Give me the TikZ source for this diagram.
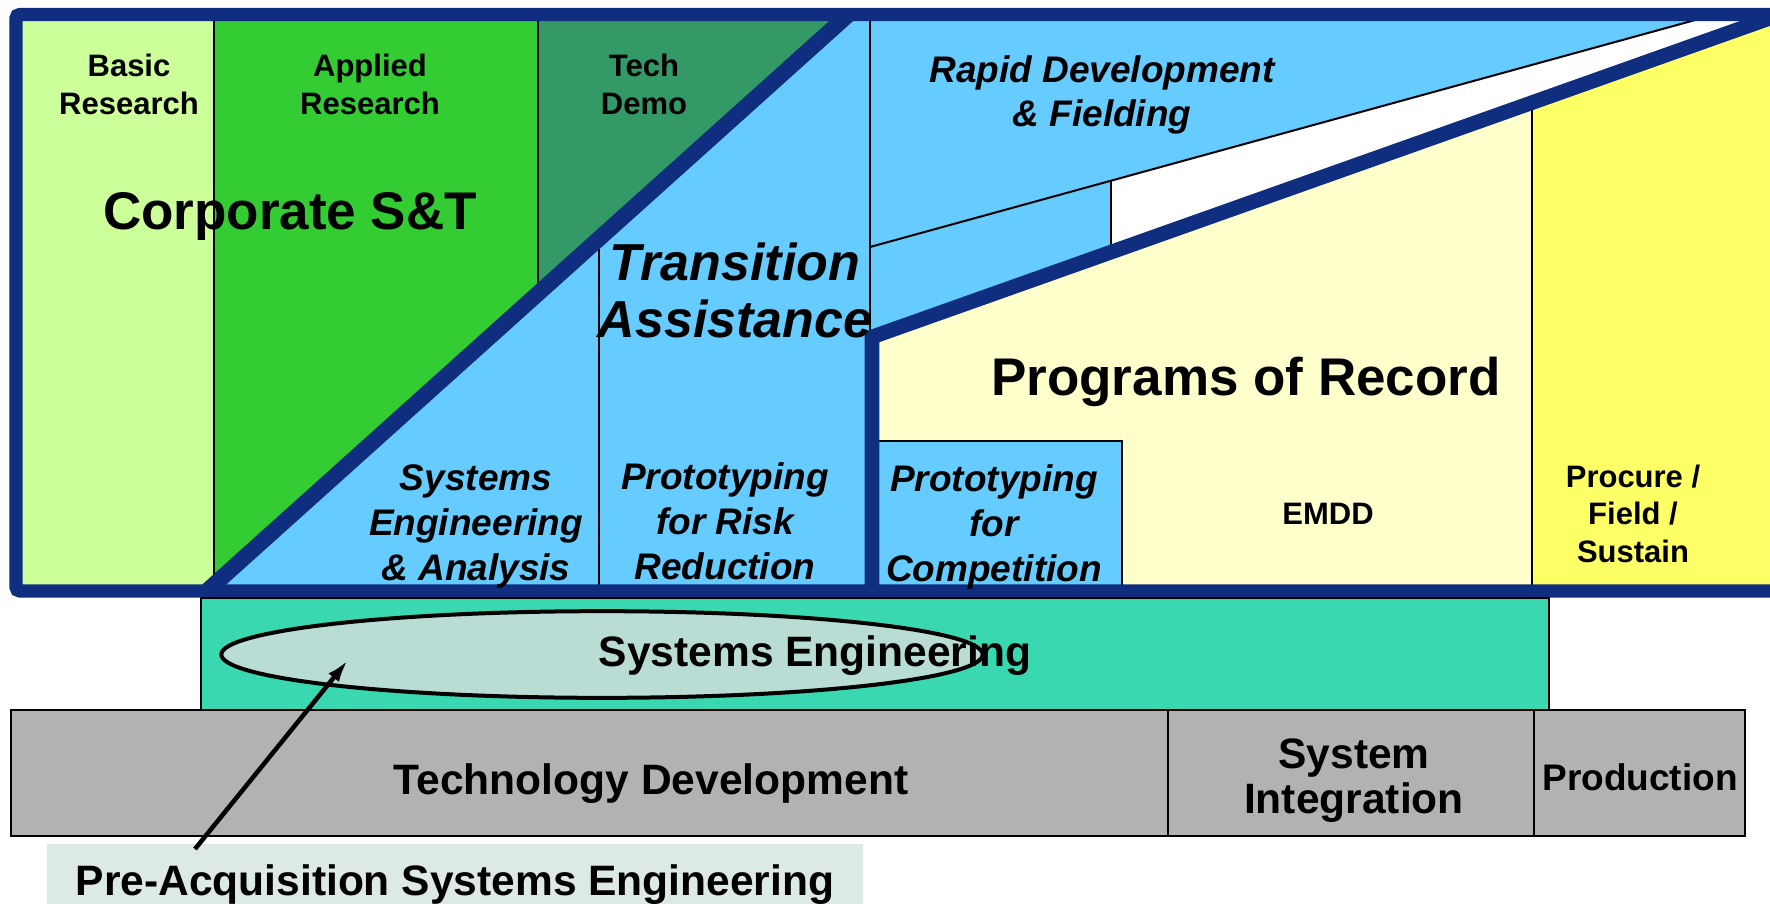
\documentclass[tikz,border=0pt]{standalone}
\usepackage{fontspec}
\setmainfont{Liberation Sans}
\usetikzlibrary{shapes.geometric,arrows.meta}
\definecolor{frameblue}{RGB}{16,46,128}
\definecolor{lgreen}{RGB}{204,255,153}
\definecolor{mgreen}{RGB}{51,204,51}
\definecolor{dgreen}{RGB}{51,153,102}
\definecolor{skyblue}{RGB}{102,204,255}
\definecolor{lyellow}{RGB}{255,255,204}
\definecolor{myellow}{RGB}{255,255,102}
\definecolor{tealbox}{RGB}{58,216,176}
\definecolor{ellfill}{RGB}{185,220,212}
\definecolor{graybox}{RGB}{178,178,178}
\definecolor{preacqfill}{RGB}{221,233,229}
\newcommand{\myfs}[2]{\fontsize{#1pt}{#2pt}\selectfont}
\begin{document}
\begin{tikzpicture}[x=0.75pt,y=-0.75pt,
  thinline/.style={black,line width=1.5pt},
  thickblue/.style={frameblue,line width=12pt,line join=miter},
  boxline/.style={draw=black,line width=1.8pt},
  lbl/.style={inner sep=0pt,align=center,text=black}]
\useasboundingbox (0,0) rectangle (1770,903);
\clip (0,0) rectangle (1770,903);
% ---- top panel fills
\fill[lgreen] (16,14) rectangle (214,591);
\fill[mgreen] (214,14) rectangle (538,591);
\fill[dgreen] (538,14) rectangle (870,591);
\fill[skyblue] (207,591) -- (849,14) -- (870,14) -- (870,591) -- cycle;
\fill[skyblue] (870,14) rectangle (1790,591);
\fill[white] (1111,180.9) -- (1717,14) -- (1790,14) -- (1790,11) -- (1111,252.1) -- cycle;
\fill[lyellow] (872,337) -- (1790,11) -- (1790,591) -- (872,591) -- cycle;
\fill[myellow] (1532,102.6) -- (1790,11) -- (1790,591) -- (1532,591) -- cycle;
\filldraw[fill=skyblue,draw=black,line width=1.5pt] (876,441) rectangle (1122,591);
% ---- thin dividers
\draw[thinline] (214,14) -- (214,591);
\draw[thinline] (538,14) -- (538,293);
\draw[thinline] (599,247) -- (599,591);
\draw[thinline] (870,14) -- (870,591);
\draw[thinline] (870,247) -- (1717,14);
\draw[thinline] (1111,180.9) -- (1111,252);
\draw[thinline] (1532,105) -- (1532,591);
% ---- thick blue lines
\draw[thickblue] (207,591) -- (849,14);
\draw[thickblue,line width=11pt] (872,591) -- (872,337) -- (1790,11);
\draw[frameblue,line width=10pt,rounded corners=3pt] (1790,14.5) -- (16,14.5) -- (16,591) -- (1790,591);
% ---- top panel labels
\node[lbl,font=\myfs{23.25}{28.5}\bfseries] (basic) at (129,84) {Basic\\Research};
\node[lbl,font=\myfs{23.25}{28.5}\bfseries] (applied) at (370,84) {Applied\\Research};
\node[lbl,font=\myfs{23.25}{28.5}\bfseries] (techdemo) at (644,84) {Tech\\Demo};
\node[lbl,font=\myfs{39.75}{45}\bfseries,anchor=base] (corp) at (290,229) {Corporate S\&T};
\node[lbl,font=\myfs{39}{42.75}\bfseries\itshape] (trans) at (735,290.5) {Transition\\Assistance};
\node[lbl,font=\myfs{27.75}{33.75}\bfseries\itshape] (sea) at (476,526) {Systems\\Engineering\\\& Analysis};
\node[lbl,font=\myfs{27.75}{33.75}\bfseries\itshape] (prr) at (725,521.75) {Prototyping\\for Risk\\Reduction};
\node[lbl,font=\myfs{27.75}{33}\bfseries\itshape] (rapid) at (1102,94.75) {Rapid Development\\\& Fielding};
\node[lbl,font=\myfs{39.75}{45}\bfseries,anchor=base] (por) at (1246,395) {Programs of Record};
\node[lbl,font=\myfs{27.75}{33.75}\bfseries\itshape] (pfc) at (994,526.75) {Prototyping\\for\\Competition};
\node[lbl,font=\myfs{23.25}{28}\bfseries,anchor=base] (emdd) at (1328,524) {EMDD};
\node[lbl,font=\myfs{23.25}{28.1}\bfseries] (procure) at (1633,513.5) {Procure /\\Field /\\Sustain};
% ---- lower bars
\draw[boxline,fill=tealbox] (201,598) rectangle (1549,710);
\node[ellipse,draw=black,fill=ellfill,line width=3pt,minimum width=571pt,minimum height=65pt,inner sep=0pt] (ell) at (602,654.5) {};
\node[lbl,font=\myfs{31.9}{36}\bfseries,anchor=base] (se) at (815,666) {Systems Engineering};
\draw[boxline,fill=graybox] (11,710) rectangle (1168,836);
\draw[boxline,fill=graybox] (1168,710) rectangle (1534,836);
\draw[boxline,fill=graybox] (1534,710) rectangle (1745,836);
\node[lbl,font=\myfs{31.9}{36}\bfseries,anchor=base] (td) at (651,794) {Technology Development};
\node[lbl,font=\myfs{31.9}{33.75}\bfseries] (si) at (1354,781) {System\\Integration};
\node[lbl,font=\myfs{27.75}{33}\bfseries,anchor=base] (prod) at (1640,790) {Production};
% ---- pre-acquisition label and arrow
\fill[preacqfill] (47,844) rectangle (863,910);
\node[lbl,font=\myfs{31.9}{36}\bfseries,anchor=base] (preacq) at (455,895) {Pre-Acquisition Systems Engineering};
\coordinate (arrtail) at (195,849);
\coordinate (arrhead) at (348,660);
\draw[line width=3.4pt,-{Latex[length=17pt,width=10pt]}] (arrtail) -- (arrhead);
\end{tikzpicture}
\end{document}
